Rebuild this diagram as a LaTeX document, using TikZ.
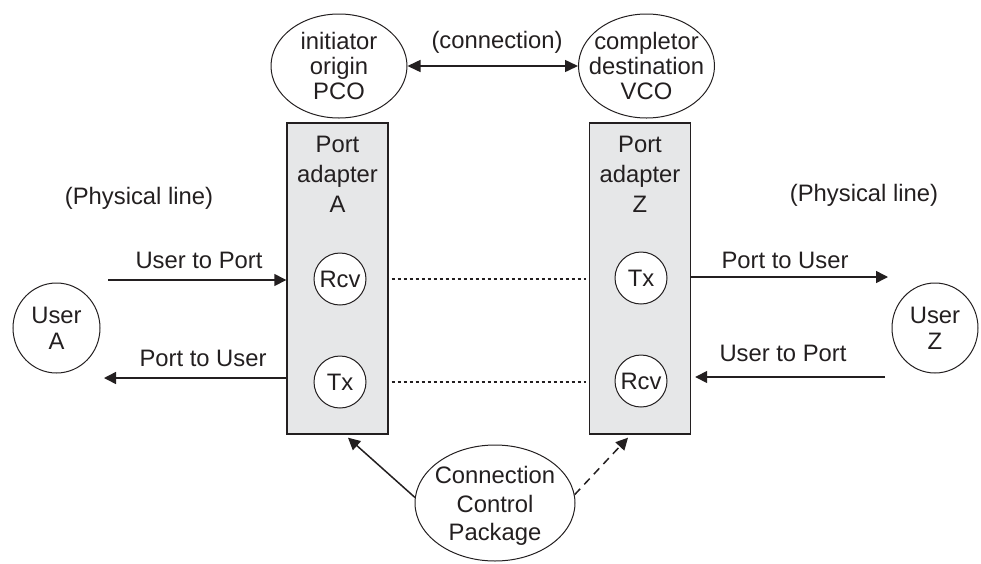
\documentclass[tikz,border=0pt]{standalone}
\usepackage{fontspec}
\setmainfont{Liberation Sans}
\usetikzlibrary{shapes.geometric,arrows.meta}
\definecolor{ink}{HTML}{231F20}
\definecolor{boxgray}{HTML}{E6E7E8}
\begin{document}
\begin{tikzpicture}[x=0.5pt,y=-0.5pt,
  txt/.style={text=ink, font=\fontsize{11.9}{12.5}\selectfont, align=center, inner sep=0},
  ell/.style={draw=ink, line width=0.5pt, ellipse, inner sep=0},
  portbox/.style={draw=ink, line width=0.7pt, fill=boxgray, rectangle, inner sep=0, minimum width=50.5pt, minimum height=155.5pt},
  unit/.style={draw=ink, line width=0.5pt, fill=white, circle, inner sep=0, minimum size=26pt, text=ink, font=\fontsize{11.9}{13}\selectfont},
  arr/.style={draw=ink, line width=0.75pt, -{Triangle[length=6pt,width=6pt]}},
  dots/.style={draw=ink, line width=0.75pt, dash pattern=on 1.5pt off 1.5pt}
]
\useasboundingbox (0,0) rectangle (981,563);

% port adapters
\node[portbox] (boxA) at (337.5,278.5) {};
\node[portbox] (boxZ) at (640,278.5) {};
\node[txt, font=\fontsize{11.9}{15}\selectfont] (lblA) at (337.5,174.5) {Port\\adapter\\A};
\node[txt, font=\fontsize{11.9}{15}\selectfont] (lblZ) at (640,174.5) {Port\\adapter\\Z};

% Rcv / Tx units
\node[unit] (rcvA) at (340,279) {Rcv};
\node[unit] (txA) at (340,382) {Tx};
\node[unit] (txZ) at (641,278) {Tx};
\node[unit] (rcvZ) at (641,381) {Rcv};

% dotted internal links
\draw[dots, shorten <=1.5pt, shorten >=1.5pt] (rcvA -| boxA.east) -- (rcvA -| boxZ.west);
\draw[dots, shorten <=1.5pt, shorten >=1.5pt] (txA -| boxA.east) -- (txA -| boxZ.west);

% top ellipses
\node[ell, minimum width=68pt, minimum height=52pt] (pco) at (339,66) {};
\node[txt] (pcot) at (pco) {initiator\\origin\\PCO};
\node[ell, minimum width=68pt, minimum height=52pt] (vco) at (646.5,66) {};
\node[txt] (vcot) at (vco) {completor\\destination\\VCO};
\node[txt] (conn) at (497,42) {(connection)};
\draw[draw=ink, line width=0.75pt, {Triangle[length=6.5pt,width=6pt]}-{Triangle[length=6.5pt,width=6pt]}] (pco.east) -- (vco.west);

% users
\node[ell, minimum width=43.5pt, minimum height=45pt] (userA) at (56.5,328) {};
\node[txt, font=\fontsize{11.9}{13}\selectfont] (userAt) at (userA) {User\\A};
\node[ell, minimum width=43pt, minimum height=45pt] (userZ) at (935,328) {};
\node[txt, font=\fontsize{11.9}{13}\selectfont] (userZt) at (userZ) {User\\Z};

% physical line labels
\node[txt] (plA) at (139,198) {(Physical line)};
\node[txt] (plZ) at (864,195) {(Physical line)};

% left arrows
\coordinate (uA1) at (108,280);
\draw[arr] (uA1) -- (uA1 -| boxA.west);
\node[txt] (l1) at (199,260) {User to Port};
\coordinate (uA2) at (104,378);
\draw[arr] (uA2 -| boxA.west) -- (uA2);
\node[txt] (l2) at (203,358) {Port to User};

% right arrows
\coordinate (uZ1) at (888,277);
\draw[arr] (uZ1 -| boxZ.east) -- (uZ1);
\node[txt] (l3) at (785,260) {Port to User};
\coordinate (uZ2) at (885,377);
\draw[arr, shorten >=2pt] (uZ2) -- (uZ2 -| boxZ.east);
\node[txt] (l4) at (783,353) {User to Port};

% connection control package
\node[ell, minimum width=80pt, minimum height=58pt] (ccp) at (495,503) {};
\node[txt, font=\fontsize{11.9}{14.2}\selectfont] (ccpt) at (495,506) {Connection\\Control\\Package};
\draw[arr] (ccp.176) -- ([shift={(5.25pt,-1.5pt)}]boxA.south);
\draw[arr, dash pattern=on 4pt off 3pt] (ccp.6) -- ([shift={(-6pt,-1.5pt)}]boxZ.south);
\end{tikzpicture}
\end{document}
